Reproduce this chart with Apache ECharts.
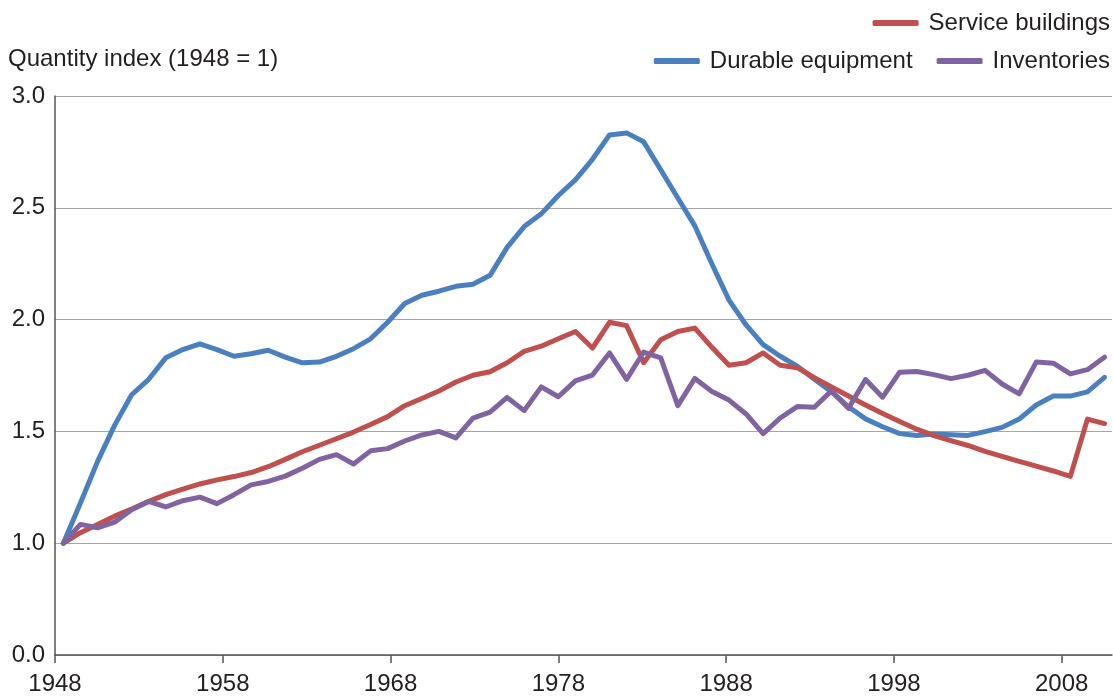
<!DOCTYPE html>
<html>
<head>
<meta charset="utf-8">
<script src="https://cdn.jsdelivr.net/npm/echarts@6/dist/echarts.min.js"></script>
<style>
html,body{margin:0;padding:0;background:#fff;}
#chart{width:1113px;height:696px;}
</style>
</head>
<body>
<div id="chart"></div>
<script>
const years = [1948,1949,1950,1951,1952,1953,1954,1955,1956,1957,1958,1959,1960,1961,1962,1963,1964,1965,1966,1967,1968,1969,1970,1971,1972,1973,1974,1975,1976,1977,1978,1979,1980,1981,1982,1983,1984,1985,1986,1987,1988,1989,1990,1991,1992,1993,1994,1995,1996,1997,1998,1999,2000,2001,2002,2003,2004,2005,2006,2007,2008,2009];

const durable = [1.00,1.18,1.365,1.527,1.664,1.733,1.829,1.866,1.891,1.866,1.836,1.847,1.863,1.832,1.807,1.81,1.836,
  1.870,1.914,1.988,2.072,2.109,2.127,2.149,2.158,2.198,2.323,2.416,2.473,2.555,2.625,2.717,2.826,
  2.835,2.795,2.670,2.544,2.419,2.249,2.087,1.976,1.888,1.836,1.792,1.733,1.678,
  1.61,1.556,1.521,1.49,1.482,1.488,1.485,1.482,1.499,1.518,1.555,1.618,1.658,1.658,1.677,1.742];

const service = [1.00,1.047,1.084,1.121,1.153,1.187,1.217,1.242,1.265,1.283,1.298,1.316,1.342,1.375,1.409,1.438,1.467,
  1.497,1.531,1.566,1.615,1.647,1.681,1.721,1.751,1.767,1.807,1.858,1.881,1.914,1.947,1.873,1.988,
  1.973,1.807,1.91,1.947,1.962,1.876,1.796,1.807,1.851,1.796,1.785,1.74,1.699,
  1.658,1.618,1.58,1.544,1.51,1.481,1.459,1.437,1.411,1.388,1.366,1.345,1.323,1.299,1.555,1.535];

const inventories = [1.00,1.084,1.069,1.094,1.15,1.187,1.162,1.19,1.206,1.177,1.217,1.261,1.276,1.30,1.335,1.375,1.396,
  1.354,1.413,1.423,1.457,1.484,1.50,1.471,1.559,1.586,1.652,1.593,1.699,1.655,1.726,1.752,1.851,
  1.733,1.855,1.829,1.615,1.737,1.678,1.64,1.578,1.49,1.56,1.611,1.608,1.681,
  1.603,1.732,1.653,1.765,1.768,1.754,1.736,1.751,1.773,1.712,1.668,1.81,1.805,1.757,1.776,1.832];

const xTickOffsets = [0,10,20,30,40,50,60];
const baseYear = 1948;
const yTickLabels = {0.5:'0.0',1:'1.0',1.5:'1.5',2:'2.0',2.5:'2.5',3:'3.0'};

const FONT = 'Liberation Sans, Arial, Helvetica, sans-serif';
const TXT = '#231f20';
const FS = 24;

function pairs(vals){ return years.map((y,i)=>[y, vals[i]]); }

const chart = echarts.init(document.getElementById('chart'), null, {renderer:'canvas'});
chart.setOption({
  animation:false,
  backgroundColor:'#fff',
  textStyle:{fontFamily:FONT},
  grid:{left:55, right:1, top:96, bottom:36, containLabel:false},
  graphic:[{
    type:'text', left:8, top:47,
    style:{text:'Quantity index (1948 = 1)', font:FS+'px '+FONT, fill:TXT}
  }],
  legend:[
    {data:['Service buildings'], right:3, top:11, icon:'roundRect', itemWidth:46, itemHeight:6,
     textStyle:{fontSize:FS, color:TXT, fontFamily:FONT, padding:[0,0,0,5]}, padding:0},
    {data:['Durable equipment','Inventories'], right:3, top:49, icon:'roundRect', itemWidth:46, itemHeight:6, itemGap:24,
     textStyle:{fontSize:FS, color:TXT, fontFamily:FONT, padding:[0,0,0,5]}, padding:0}
  ],
  xAxis:[
    {type:'value', min:0, max:63, interval:10,
     axisLine:{show:true, lineStyle:{color:'#555', width:1.5}},
     axisTick:{show:true, length:8, lineStyle:{color:'#555', width:1.5}, customValues:xTickOffsets},
     axisLabel:{show:true, margin:17, fontSize:FS, color:TXT, fontFamily:FONT, customValues:xTickOffsets,
       formatter:v=>String(baseYear+v)},
     splitLine:{show:false}},
    {type:'value', min:1947.51, max:2009.44, show:false, splitLine:{show:false}}
  ],
  yAxis:{type:'value', min:0.5, max:3.0, interval:0.5,
    axisLine:{show:true, lineStyle:{color:'#555', width:1.5}},
    axisTick:{show:false},
    axisLabel:{margin:10, fontSize:FS, color:TXT, fontFamily:FONT, formatter:v=>yTickLabels[v] || ''},
    splitLine:{show:true, lineStyle:{color:'#a6a6a6', width:1.2}}
  },
  series:[
    {name:'Durable equipment', type:'line', xAxisIndex:1, data:pairs(durable), symbol:'none',
     color:'#4a7fc0', lineStyle:{width:5, color:'#4a7fc0', cap:'round', join:'round'}},
    {name:'Service buildings', type:'line', xAxisIndex:1, data:pairs(service), symbol:'none',
     color:'#c0504d', lineStyle:{width:5, color:'#c0504d', cap:'round', join:'round'}},
    {name:'Inventories', type:'line', xAxisIndex:1, data:pairs(inventories), symbol:'none',
     color:'#8064a2', lineStyle:{width:5, color:'#8064a2', cap:'round', join:'round'}}
  ]
});
</script>
</body>
</html>
